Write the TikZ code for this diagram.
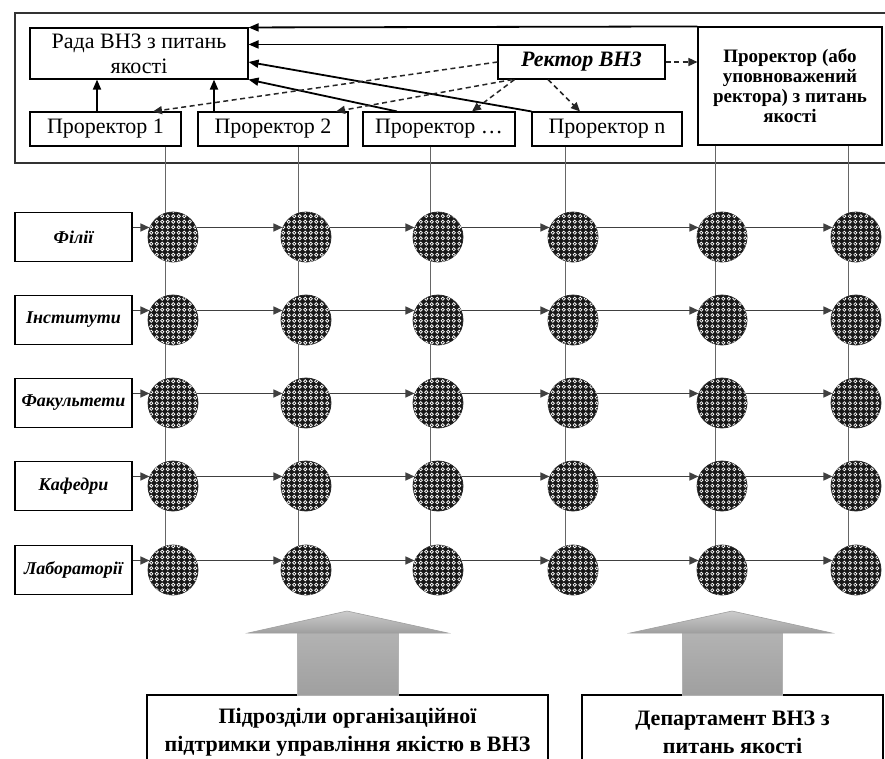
\documentclass[tikz,border=0pt]{standalone}
\usepackage{fontspec}
\setmainfont{Liberation Serif}
\usetikzlibrary{arrows.meta,patterns.meta,shadings}

\tikzdeclarepattern{
  name=honey, type=uncolored,
  bottom left={(-0.5pt,-0.5pt)}, top right={(6pt,6pt)},
  tile size={(5.5pt,5.5pt)},
  code={\draw[line width=0.65pt] (2.75pt,2.75pt) circle[radius=1.55pt];}
}

\begin{document}
\begin{tikzpicture}[x=1pt,y=-1pt,
  box/.style={draw, line width=1.1pt, inner sep=0pt, align=center,
    font=\fontsize{22}{25}\selectfont},
  lbl/.style={draw, line width=1.1pt, inner sep=0pt, align=center,
    minimum width=117pt, minimum height=49pt,
    font=\fontsize{18}{22}\selectfont\bfseries\itshape},
  dot/.style={circle, minimum size=50pt, inner sep=0pt, draw=black!85,
    line width=0.8pt, fill=black!90,
    postaction={pattern=honey, pattern color=white}},
  harr/.style={draw=black!75, line width=1.4pt, -{Triangle[length=9pt,width=8pt]}},
  vline/.style={draw=black!60, line width=1pt},
  tarr/.style={line width=1.8pt, -{Triangle[length=10pt,width=8pt]}},
  darr/.style={draw=black!85, line width=1.5pt, dash pattern=on 5pt off 3.5pt, -{Triangle[length=9pt,width=8pt]}},
  bbox/.style={draw, line width=1.2pt, inner sep=0pt, align=center,
    font=\fontsize{22}{28}\selectfont\bfseries},
]
\useasboundingbox (0,0) rectangle (885,758);
\clip (0,0) rectangle (885,758);
\fill[white] (0,0) rectangle (885,758);

% outer frame
\draw[line width=1.5pt, black!80] (15,13) rectangle (900,163);

% top boxes
\node[box, minimum width=218pt, minimum height=51pt] (rada) at (139,53.5) {Рада ВНЗ з питань\\якості};
\node[box, minimum width=151pt, minimum height=34pt] (p1) at (105.5,129) {Проректор 1};
\node[box, minimum width=150pt, minimum height=34pt] (p2) at (273,129) {Проректор 2};
\node[box, minimum width=152pt, minimum height=34pt] (pdots) at (439,129) {Проректор \dots};
\node[box, minimum width=150pt, minimum height=34pt] (pn) at (607,129) {Проректор n};
\node[box, minimum width=167pt, minimum height=34pt, font=\fontsize{22}{25}\selectfont\bfseries\itshape] (rector) at (581.5,62) {Ректор ВНЗ};
\node[box, minimum width=184pt, minimum height=118pt, font=\fontsize{19}{20}\selectfont\bfseries] (pa) at (790,86) {Проректор (або\\уповноважений\\ректора) з питань\\якості};

% top arrows
\draw[tarr] (pa.north west) -- (rada.north east);
\draw[tarr] (rector.north west) -- (rada.east |- rector.north west);
\draw[tarr] (pn.north west) -- ([yshift=-8.5pt]rada.east);
\draw[tarr] ([xshift=-42pt]pdots.north) -- (rada.south east);
\draw[tarr] ([xshift=-8.5pt]p1.north) -- ([xshift=-42pt]rada.south);
\draw[tarr] ([xshift=-59pt]p2.north) -- ([xshift=75pt]rada.south);

\draw[darr] (rector.west) -- ([xshift=47.5pt]p1.north);
\draw[darr] ([xshift=15pt]rector.south west) -- ([xshift=63pt]p2.north);
\draw[darr] ([xshift=17pt]rector.south west) -- ([xshift=33pt]pdots.north);
\draw[darr] ([xshift=-33.5pt]rector.south) -- ([xshift=-27pt]pn.north);
\draw[darr] (rector.east) -- (pa.west |- rector.east);

% column line end points
\coordinate (v1) at (165,570);
\coordinate (v2) at (298,570);
\coordinate (v3) at (430,570);
\coordinate (v4) at (565,570);
\coordinate (v5) at (715,570);
\coordinate (v6) at (848,570);
\draw[vline] (v1 |- p1.south) -- (v1);
\draw[vline] (v2 |- p2.south) -- (v2);
\draw[vline] (v3 |- pdots.south) -- (v3);
\draw[vline] (v4 |- pn.south) -- (v4);
\draw[vline] (v5 |- pa.south) -- (v5);
\draw[vline] (v6 |- pa.south) -- (v6);

% left labels
\node[lbl] (l1) at (73.5,237) {Філії};
\node[lbl] (l2) at (73.5,320) {Інститути};
\node[lbl] (l3) at (73.5,403) {Факультети};
\node[lbl] (l4) at (73.5,486) {Кафедри};
\node[lbl] (l5) at (73.5,570) {Лабораторії};

% circles
\foreach \r/\y in {1/237,2/320,3/403,4/486,5/570}{
  \foreach \c/\x in {1/173,2/306,3/438,4/573,5/722,6/856}{
    \node[dot] (c\r\c) at (\x,\y) {};
  }
}

% horizontal arrows
\foreach \r in {1,...,5}{
  \draw[harr] (l\r.east |- c\r1.158) -- (c\r1.158);
  \foreach \c/\d in {1/2,2/3,3/4,4/5,5/6}{
    \draw[harr] (c\r\c.22) -- (c\r\d.158);
  }
}

% bottom boxes
\node[bbox, minimum width=401pt, minimum height=75pt] (sub) at (347.5,732.5) {Підрозділи організаційної\\підтримки управління якістю в ВНЗ};
\node[bbox, minimum width=301pt, minimum height=75pt] (dep) at (732.5,732.5) {Департамент ВНЗ з\\питань якості};

% block arrows
\shade[top color=gray!60, middle color=white, bottom color=gray!75, draw=gray!60, line width=0.6pt]
  (297,633) rectangle (398,695);
\shade[top color=gray!40, bottom color=gray!75, draw=gray!75, line width=0.6pt]
  (248,633) -- (347,611) -- (448,633) -- cycle;
\shade[top color=gray!60, middle color=white, bottom color=gray!75, draw=gray!60, line width=0.6pt]
  (682,633) rectangle (782,695);
\shade[top color=gray!40, bottom color=gray!75, draw=gray!75, line width=0.6pt]
  (630,633) -- (732,611) -- (832,633) -- cycle;
\end{tikzpicture}
\end{document}
